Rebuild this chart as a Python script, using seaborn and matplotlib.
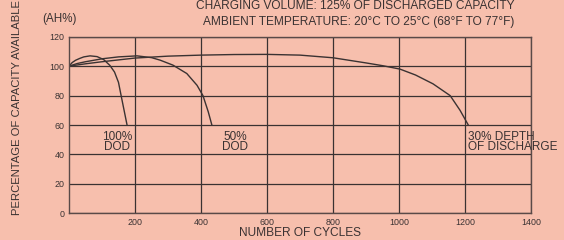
import matplotlib
matplotlib.use("Agg")
import matplotlib.pyplot as plt
import seaborn as sns
import pandas as pd

# cycle life curves
dod100_cycles = [0, 10, 20, 33, 45, 64, 85, 105, 124, 138, 150, 158, 167, 176]
dod100_cap = [100, 102.5, 104, 105.3, 106.3, 107, 106.5, 104.5, 100.5, 96, 89, 80, 70, 60]

dod50_cycles = [0, 25, 50, 100, 150, 206, 250, 276, 315, 357, 388, 406, 422, 433]
dod50_cap = [100, 101.8, 103, 105, 106.3, 107, 105.8, 104.1, 100.7, 95, 87, 80, 69, 60]

dod30_cycles = [0, 50, 100, 200, 300, 400, 500, 600, 700, 800, 900, 951, 1003, 1050,
                1103, 1155, 1185, 1210]
dod30_cap = [100, 101.6, 103, 105.5, 106.8, 107.5, 107.9, 108, 107.5, 105.7, 102.2, 100.3,
             98, 94, 88, 80, 70, 60]

x_ticks = [200, 400, 600, 800, 1000, 1200, 1400]
y_ticks = [0, 20, 40, 60, 80, 100, 120]

bg = "#f7bfad"
ink = "#3a3232"

sns.set_style("white", {"axes.facecolor": bg, "figure.facecolor": bg})
plt.rcParams["font.family"] = ["Liberation Sans", "DejaVu Sans"]

fig = plt.figure(figsize=(5.64, 2.40), dpi=100)
ax = fig.add_axes([0.1223, 0.111, 0.8192, 0.736])

for cyc, cap in [(dod100_cycles, dod100_cap), (dod50_cycles, dod50_cap), (dod30_cycles, dod30_cap)]:
    df = pd.DataFrame({"cycles": cyc, "cap": cap})
    sns.lineplot(data=df, x="cycles", y="cap", ax=ax, color=ink, lw=1.0,
                 estimator=None, sort=False)

ax.set_xlim(0, 1400)
ax.set_ylim(0, 120)
ax.set_xticks(x_ticks)
ax.set_yticks(y_ticks)
ax.tick_params(axis="both", length=0, labelsize=6.4, colors=ink, pad=3)
ax.grid(True, color=ink, lw=0.9)
for s in ax.spines.values():
    s.set_color("#5a4a48")
    s.set_linewidth(1.0)

ax.set_xlabel("NUMBER OF CYCLES", fontsize=8.6, color=ink, labelpad=0)
ax.set_ylabel("PERCENTAGE OF CAPACITY AVAILABLE", fontsize=8.1, color=ink)
ax.yaxis.set_label_coords(-0.102, 0.60)

fig.text(0.912, 0.975, "CHARGING VOLUME: 125% OF DISCHARGED CAPACITY", ha="right", va="center",
         fontsize=8.6, color=ink)
fig.text(0.912, 0.91, "AMBIENT TEMPERATURE: 20°C TO 25°C (68°F TO 77°F)", ha="right", va="center",
         fontsize=8.6, color=ink)
fig.text(0.106, 0.92, "(AH%)", ha="center", va="center", fontsize=8.4, color=ink)

ax.text(145, 48.5, "100%\nDOD", ha="center", va="center", fontsize=8.5, color=ink, linespacing=0.85)
ax.text(503, 48.5, "50%\nDOD", ha="center", va="center", fontsize=8.5, color=ink, linespacing=0.85)
ax.text(1208, 48.5, "30% DEPTH\nOF DISCHARGE", ha="left", va="center", fontsize=8.5, color=ink,
        linespacing=0.85, clip_on=False)

fig.savefig("out.png", dpi=100, facecolor=bg)
